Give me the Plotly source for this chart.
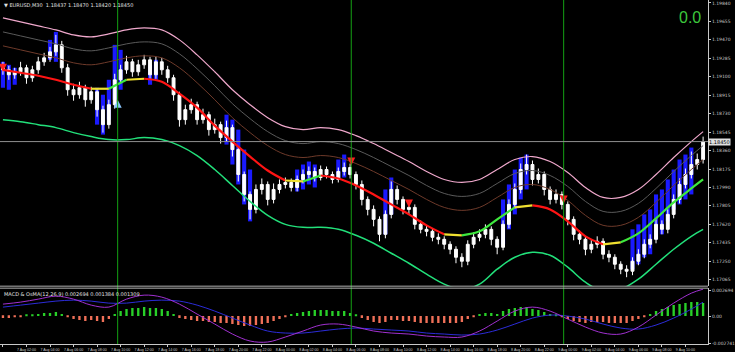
import plotly.graph_objects as go

# ---------------- data ----------------
opens = [1.1921,1.1917,1.1912,1.1915,1.1919,1.1909,1.1917,1.1925,1.1929,1.1935,
         1.1942,1.1919,1.1897,1.1892,1.1899,1.1887,1.1895,1.1877,1.1862,1.1882,
         1.1907,1.1917,1.1925,1.1915,1.1922,1.1927,1.1912,1.1925,1.1917,1.1909,
         1.1892,1.1867,1.1877,1.1882,1.1867,1.1872,1.1857,1.1862,1.1849,1.1859,
         1.1837,1.1812,1.1792,1.1777,1.1797,1.1802,1.1787,1.1797,1.1802,1.1804,
         1.1799,1.1807,1.1812,1.1815,1.1809,1.1817,1.1812,1.1807,1.1815,1.1819,
         1.1812,1.1802,1.1787,1.1777,1.1767,1.1752,1.1772,1.1797,1.1787,1.1777,
         1.1779,1.1762,1.1757,1.1755,1.1749,1.1747,1.1742,1.1737,1.1729,1.1725,
         1.1742,1.1749,1.1752,1.1757,1.1747,1.1739,1.1762,1.1782,1.1797,1.1817,
         1.1822,1.1807,1.1812,1.1797,1.1787,1.1792,1.1782,1.1767,1.1752,1.1747,
         1.1737,1.1742,1.1745,1.1732,1.1729,1.1722,1.1717,1.1715,1.1725,1.1732,
         1.1742,1.1747,1.1762,1.1757,1.1772,1.1787,1.1802,1.1812,1.1822,1.1827]
closes = [1.1917,1.1912,1.1915,1.1919,1.1909,1.1917,1.1925,1.1929,1.1935,1.1942,
          1.1919,1.1897,1.1892,1.1899,1.1887,1.1895,1.1877,1.1862,1.1882,1.1907,
          1.1917,1.1925,1.1915,1.1922,1.1927,1.1912,1.1925,1.1917,1.1909,1.1892,
          1.1867,1.1877,1.1882,1.1867,1.1872,1.1857,1.1862,1.1849,1.1859,1.1837,
          1.1812,1.1792,1.1777,1.1797,1.1802,1.1787,1.1797,1.1802,1.1804,1.1799,
          1.1807,1.1812,1.1815,1.1809,1.1817,1.1812,1.1807,1.1815,1.1819,1.1812,
          1.1802,1.1787,1.1777,1.1767,1.1752,1.1772,1.1797,1.1787,1.1777,1.1779,
          1.1762,1.1757,1.1755,1.1749,1.1747,1.1742,1.1737,1.1729,1.1725,1.1742,
          1.1749,1.1752,1.1757,1.1747,1.1739,1.1762,1.1782,1.1797,1.1817,1.1822,
          1.1807,1.1812,1.1797,1.1787,1.1792,1.1782,1.1767,1.1752,1.1747,1.1737,
          1.1742,1.1745,1.1732,1.1729,1.1722,1.1717,1.1715,1.1725,1.1732,1.1742,
          1.1747,1.1762,1.1757,1.1772,1.1787,1.1802,1.1812,1.1822,1.1827,1.1845]
highs = [1.1925,1.1921,1.1919,1.1925,1.1922,1.1921,1.1930,1.1934,1.1940,1.1952,
         1.1946,1.1923,1.1903,1.1905,1.1902,1.1900,1.1898,1.1881,1.1887,1.1913,
         1.1922,1.1931,1.1928,1.1927,1.1932,1.1930,1.1930,1.1929,1.1921,1.1912,
         1.1895,1.1882,1.1888,1.1885,1.1878,1.1875,1.1868,1.1865,1.1866,1.1862,
         1.1840,1.1815,1.1795,1.1802,1.1808,1.1805,1.1803,1.1807,1.1809,1.1808,
         1.1811,1.1817,1.1820,1.1819,1.1821,1.1820,1.1815,1.1819,1.1824,1.1823,
         1.1815,1.1806,1.1790,1.1781,1.1770,1.1776,1.1805,1.1801,1.1790,1.1784,
         1.1782,1.1766,1.1761,1.1758,1.1753,1.1750,1.1745,1.1740,1.1733,1.1746,
         1.1754,1.1757,1.1762,1.1760,1.1750,1.1766,1.1787,1.1803,1.1823,1.1832,
         1.1826,1.1818,1.1815,1.1800,1.1797,1.1795,1.1785,1.1770,1.1756,1.1750,
         1.1747,1.1750,1.1748,1.1736,1.1732,1.1725,1.1721,1.1729,1.1737,1.1747,
         1.1752,1.1767,1.1766,1.1777,1.1792,1.1808,1.1818,1.1835,1.1833,1.1850]
lows = [1.1912,1.1907,1.1908,1.1911,1.1903,1.1905,1.1913,1.1921,1.1925,1.1931,
        1.1914,1.1891,1.1886,1.1888,1.1880,1.1883,1.1870,1.1854,1.1858,1.1878,
        1.1903,1.1913,1.1910,1.1911,1.1918,1.1907,1.1908,1.1912,1.1904,1.1886,
        1.1860,1.1862,1.1873,1.1862,1.1863,1.1851,1.1853,1.1843,1.1845,1.1830,
        1.1805,1.1785,1.1767,1.1773,1.1792,1.1781,1.1783,1.1793,1.1798,1.1795,
        1.1795,1.1803,1.1808,1.1805,1.1806,1.1808,1.1803,1.1804,1.1811,1.1808,
        1.1797,1.1781,1.1771,1.1760,1.1745,1.1748,1.1768,1.1782,1.1772,1.1772,
        1.1757,1.1753,1.1750,1.1745,1.1742,1.1737,1.1732,1.1723,1.1719,1.1721,
        1.1738,1.1745,1.1748,1.1741,1.1732,1.1736,1.1758,1.1778,1.1793,1.1812,
        1.1801,1.1803,1.1791,1.1782,1.1783,1.1777,1.1761,1.1746,1.1742,1.1731,
        1.1733,1.1738,1.1727,1.1724,1.1717,1.1712,1.1709,1.1711,1.1721,1.1728,
        1.1738,1.1743,1.1752,1.1753,1.1768,1.1783,1.1798,1.1808,1.1817,1.1823]
bar_pos = list(range(120))

# blue trend bars (bar index, top, bottom)
blue_idx = [0,1,2,8,9,16,17,18,19,20,25,26,38,39,40,41,42,50,51,52,53,57,58,65,66,
            85,86,87,88,89,107,108,109,110,111,112,113,114,115,116,117]
blue_hi = [1.1925,1.1922,1.1919,1.1947,1.1955,1.1899,1.1892,1.1907,1.1942,1.1937,1.1922,1.1927,
           1.1872,1.1867,1.1857,1.1837,1.1817,1.1817,1.1822,1.1825,1.1822,1.1827,1.1832,1.1797,1.1809,
           1.1787,1.1802,1.1817,1.1829,1.1832,1.1757,1.1762,1.1772,1.1777,1.1792,1.1797,1.1807,1.1817,
           1.1827,1.1832,1.1839]
blue_lo = [1.1899,1.1897,1.1902,1.1927,1.1925,1.1862,1.1852,1.1867,1.1887,1.1897,1.1902,1.1907,
           1.1842,1.1822,1.1802,1.1782,1.1765,1.1795,1.1797,1.1802,1.1799,1.1807,1.1809,1.1752,1.1772,
           1.1742,1.1757,1.1772,1.1787,1.1797,1.1717,1.1722,1.1729,1.1732,1.1747,1.1752,1.1765,1.1777,
           1.1782,1.1787,1.1792]

# band / moving-average knots (bar index)
ma_idx = [0,3,6,9,12,15,18,21,24,27,30,33,36,39,42,45,48,51,54,57,60,63,66,69,72,75,78,81,
          84,87,90,93,96,99,102,105,108,111,114,117,119]
ma_mid = [1.1917,1.1914,1.1911,1.1907,1.1902,1.1898,1.1898,1.1907,1.1908,1.1905,1.1893,1.1879,
          1.1861,1.1845,1.1830,1.1816,1.1806,1.1805,1.1811,1.1808,1.1801,1.1792,1.1782,1.1772,
          1.1761,1.1752,1.1751,1.1755,1.1767,1.1779,1.1781,1.1777,1.1765,1.1750,1.1742,1.1744,
          1.1753,1.1768,1.1784,1.1798,1.1807]
band_top = [1.1969,1.1965,1.1961,1.1957,1.1952,1.1950,1.1953,1.1957,1.1959,1.1957,1.1947,1.1932,
            1.1915,1.1897,1.1882,1.1869,1.1860,1.1857,1.1859,1.1857,1.1851,1.1843,1.1834,1.1825,
            1.1815,1.1807,1.1804,1.1807,1.1817,1.1827,1.1830,1.1825,1.1814,1.1799,1.1789,1.1789,
            1.1797,1.1812,1.1829,1.1845,1.1855]
band_up2 = [1.1955,1.1951,1.1947,1.1943,1.1938,1.1936,1.1939,1.1943,1.1945,1.1943,1.1933,1.1918,
            1.1901,1.1883,1.1868,1.1855,1.1846,1.1843,1.1845,1.1843,1.1837,1.1829,1.1820,1.1811,
            1.1801,1.1793,1.1790,1.1793,1.1803,1.1813,1.1816,1.1811,1.1800,1.1785,1.1775,1.1775,
            1.1783,1.1798,1.1815,1.1831,1.1841]
band_up1 = [1.1941,1.1937,1.1933,1.1929,1.1924,1.1922,1.1925,1.1929,1.1931,1.1929,1.1919,1.1904,
            1.1887,1.1869,1.1854,1.1841,1.1832,1.1829,1.1831,1.1829,1.1823,1.1815,1.1806,1.1797,
            1.1787,1.1779,1.1776,1.1779,1.1789,1.1799,1.1802,1.1797,1.1786,1.1771,1.1761,1.1761,
            1.1769,1.1784,1.1801,1.1817,1.1827]
band_low = [1.1867,1.1865,1.1862,1.1859,1.1854,1.1850,1.1847,1.1847,1.1849,1.1847,1.1841,1.1831,
            1.1817,1.1801,1.1785,1.1771,1.1762,1.1759,1.1759,1.1757,1.1751,1.1743,1.1733,1.1723,
            1.1712,1.1702,1.1697,1.1702,1.1717,1.1729,1.1734,1.1731,1.1719,1.1704,1.1695,1.1697,
            1.1707,1.1722,1.1737,1.1750,1.1757]

# signal arrows
dn_idx = [0, 59.2, 69, 95.3]
dn_price = [1.1915, 1.1821, 1.1779, 1.1783]
up_idx = [19.5]
up_price = [1.1887]
separator_idx = [19.5, 59.2, 95.3]
last_price = 1.18450

# MACD panel
osma = [-0.0002,-0.0002,-0.0001,-0.0001,0.0001,0.0001,0.0002,0.0003,0.0003,0.0004,
        0.0002,-0.0001,-0.0003,-0.0004,-0.0005,-0.0004,-0.0005,-0.0006,-0.0003,0.0002,
        0.0005,0.0007,0.0008,0.0008,0.0009,0.0008,0.0008,0.0007,0.0005,0.0002,
        -0.0002,-0.0003,-0.0004,-0.0005,-0.0005,-0.0006,-0.0006,-0.0007,-0.0007,-0.0008,
        -0.0009,-0.0010,-0.0010,-0.0009,-0.0008,-0.0007,-0.0005,-0.0003,-0.0001,0.0002,
        0.0003,0.0004,0.0005,0.0006,0.0006,0.0006,0.0005,0.0005,0.0005,0.0003,
        0.0001,-0.0002,-0.0004,-0.0006,-0.0007,-0.0006,-0.0004,-0.0004,-0.0005,-0.0005,
        -0.0006,-0.0007,-0.0007,-0.0007,-0.0007,-0.0007,-0.0007,-0.0007,-0.0006,-0.0003,
        -0.0001,0.0002,0.0003,0.0003,0.0002,0.0005,0.0007,0.0008,0.0009,0.0009,
        0.0007,0.0006,0.0004,0.0002,0.0001,-0.0001,-0.0003,-0.0005,-0.0006,-0.0007,
        -0.0006,-0.0006,-0.0006,-0.0007,-0.0007,-0.0007,-0.0007,-0.0005,-0.0003,-0.0001,
        0.0002,0.0005,0.0007,0.0009,0.0011,0.0012,0.0013,0.0014,0.0014,0.0013]
macd_main = [0.0012,0.0014,0.0017,0.0020,0.0017,0.0011,0.0009,0.0017,0.0021,0.0019,0.0012,0.0002,
             -0.0008,-0.0018,-0.0025,-0.0026,-0.0021,-0.0015,-0.0009,-0.0008,-0.0011,-0.0015,-0.0017,
             -0.0018,-0.0020,-0.0021,-0.0021,-0.0015,-0.0005,0.0005,0.0009,0.0005,-0.0003,-0.0011,
             -0.0017,-0.0018,-0.0011,0.0001,0.0013,0.0023,0.0027]
macd_signal = [0.0009,0.0011,0.0013,0.0015,0.0016,0.0015,0.0013,0.0013,0.0015,0.0016,0.0015,0.0011,
               0.0005,-0.0002,-0.0009,-0.0015,-0.0017,-0.0017,-0.0015,-0.0013,-0.0012,-0.0013,-0.0014,
               -0.0015,-0.0017,-0.0018,-0.0019,-0.0018,-0.0014,-0.0008,-0.0002,0.0001,0.0000,-0.0003,
               -0.0008,-0.0012,-0.0013,-0.0009,-0.0002,0.0007,0.0014]

price_ticks = [1.19840,1.19655,1.19470,1.19285,1.19100,1.18915,1.18730,1.18545,1.18360,
               1.18175,1.17990,1.17805,1.17620,1.17435,1.17250,1.17065]
macd_ticks = [0.0026, 0.0, -0.0027]
macd_tick_text = ["0.002694", "0.00", "-0.002741"]
time_ticks = list(range(0, 120, 4))
time_labels = ["7 Aug 2017","7 Aug 02:00","7 Aug 04:00","7 Aug 06:00","7 Aug 08:00","7 Aug 10:00",
               "7 Aug 12:00","7 Aug 14:00","7 Aug 16:00","7 Aug 18:00","7 Aug 20:00","7 Aug 22:00",
               "8 Aug 00:00","8 Aug 02:00","8 Aug 04:00","8 Aug 06:00","8 Aug 08:00","8 Aug 10:00",
               "8 Aug 12:00","8 Aug 14:00","8 Aug 16:00","8 Aug 18:00","8 Aug 20:00","8 Aug 22:00",
               "9 Aug 00:00","9 Aug 02:00","9 Aug 04:00","9 Aug 06:00","9 Aug 08:00","9 Aug 10:00"]

# ---------------- figure ----------------
W, H = 735, 352
ML, MR, MT, MB = 0, 13, 0, 7
PH = H - MT - MB
main_bottom = 1 - 287 / PH
macd_top = 1 - 289 / PH

RED, YELLOW, GREEN = "#ff1414", "#f0e030", "#3ee83e"
AX = "#c8c8c8"

fig = go.Figure()

# blue bars behind candles
fig.add_trace(go.Bar(x=[bar_pos[i] for i in blue_idx],
                     y=[h - l for h, l in zip(blue_hi, blue_lo)], base=blue_lo,
                     width=0.7, marker=dict(color="#1a1aff", line=dict(width=0)),
                     xaxis="x", yaxis="y", hoverinfo="skip"))

# bands
def band(vals, color, w=1):
    fig.add_trace(go.Scatter(x=ma_idx, y=vals, mode="lines",
                             line=dict(color=color, width=w, shape="spline"),
                             xaxis="x", yaxis="y", hoverinfo="skip"))

band(band_top, "#f0a8cc", 1.2)
band(band_up2, "#5a5a5a", 1)
band(band_up1, "#6e3a2a", 1)
band(band_low, "#22e07a", 1.5)

# candles
fig.add_trace(go.Candlestick(x=bar_pos, open=opens, high=highs, low=lows, close=closes,
                             increasing=dict(line=dict(color="#ffffff", width=1), fillcolor="#ffffff"),
                             decreasing=dict(line=dict(color="#ffffff", width=1), fillcolor="#ffffff"),
                             whiskerwidth=0, xaxis="x", yaxis="y", hoverinfo="skip"))

# colored MA
def seg_color(d):
    if d > 0.00025:
        return GREEN
    if d < -0.00025:
        return RED
    return YELLOW

cols = [seg_color(ma_mid[k + 1] - ma_mid[k]) for k in range(len(ma_mid) - 1)]
start = 0
for k in range(1, len(cols) + 1):
    if k == len(cols) or cols[k] != cols[start]:
        fig.add_trace(go.Scatter(x=ma_idx[start:k + 1], y=ma_mid[start:k + 1], mode="lines",
                                 line=dict(color=cols[start], width=2.2, shape="spline"),
                                 xaxis="x", yaxis="y", hoverinfo="skip"))
        start = k

# arrows
fig.add_trace(go.Scatter(x=dn_idx, y=dn_price, mode="markers",
                         marker=dict(symbol="arrow-down", size=8, color="#ff2020"),
                         xaxis="x", yaxis="y", hoverinfo="skip"))
fig.add_trace(go.Scatter(x=up_idx, y=up_price, mode="markers",
                         marker=dict(symbol="arrow-up", size=8, color="#8cc8ff"),
                         xaxis="x", yaxis="y", hoverinfo="skip"))

# MACD
fig.add_trace(go.Bar(x=bar_pos, y=osma, width=0.4,
                     marker=dict(color=["#28d028" if v >= 0 else "#f07058" for v in osma],
                                 line=dict(width=0)),
                     xaxis="x", yaxis="y2", hoverinfo="skip"))
fig.add_trace(go.Scatter(x=ma_idx, y=macd_signal, mode="lines",
                         line=dict(color="#2c2cd8", width=1, shape="spline"),
                         xaxis="x", yaxis="y2", hoverinfo="skip"))
fig.add_trace(go.Scatter(x=ma_idx, y=macd_main, mode="lines",
                         line=dict(color="#a030d0", width=1, shape="spline"),
                         xaxis="x", yaxis="y2", hoverinfo="skip"))

shapes = []
for s in separator_idx:
    shapes.append(dict(type="line", xref="x", yref="paper", x0=s, x1=s, y0=0, y1=1,
                       line=dict(color="#14a014", width=1)))
shapes.append(dict(type="line", xref="paper", yref="y", x0=0, x1=1, y0=last_price, y1=last_price,
                   line=dict(color="#909090", width=1)))
for yy in (main_bottom, macd_top):
    shapes.append(dict(type="line", xref="paper", yref="paper", x0=0, x1=1, y0=yy, y1=yy,
                       line=dict(color="#b0b0b0", width=1)))

annotations = [
    dict(xref="paper", yref="paper", x=0.003, y=1.0, xanchor="left", yanchor="top",
         text="▼ EURUSD,M30  1.18437 1.18470 1.18420 1.18450", showarrow=False,
         font=dict(size=5, color="#e0e0e0", family="DejaVu Sans")),
    dict(xref="paper", yref="paper", x=0.003, y=macd_top - 0.003, xanchor="left", yanchor="top",
         text="MACD & OsMA(12,26,9) 0.002694 0.001384 0.001309", showarrow=False,
         font=dict(size=5, color="#e0e0e0", family="DejaVu Sans")),
    dict(xref="paper", yref="paper", x=716 / 722, y=1 - 8 / PH, xanchor="right", yanchor="top",
         text="0.0", showarrow=False, borderpad=0,
         font=dict(size=16, color="#3cc83c", family="Liberation Sans")),
    dict(xref="paper", yref="y", x=1.0, y=last_price, xanchor="left", yanchor="middle",
         text="1.18450", showarrow=False, bgcolor="#e0e0e0", borderpad=0,
         font=dict(size=5, color="#000000", family="DejaVu Sans")),
]

fig.update_layout(
    width=W, height=H, margin=dict(l=ML, r=MR, t=MT, b=MB),
    paper_bgcolor="#000000", plot_bgcolor="#000000",
    showlegend=False, barmode="overlay",
    font=dict(family="DejaVu Sans", color=AX, size=5),
    shapes=shapes, annotations=annotations,
    xaxis=dict(range=[-0.5, 119.833], anchor="y2", showgrid=False, zeroline=False,
               rangeslider=dict(visible=False), tickmode="array", tickvals=time_ticks,
               ticktext=time_labels, tickangle=0, ticks="outside", ticklen=2, tickcolor=AX,
               tickfont=dict(size=3.6, color=AX, family="Liberation Sans"),
               showline=True, linecolor=AX, linewidth=1),
    yaxis=dict(domain=[main_bottom, 1], range=[1.1700, 1.1987], side="right",
               showgrid=False, zeroline=False, tickmode="array", tickvals=price_ticks,
               ticktext=["%.5f" % v for v in price_ticks], ticks="outside", ticklen=2,
               tickcolor=AX, tickfont=dict(size=4.5, color=AX), showline=True,
               linecolor=AX, linewidth=1),
    yaxis2=dict(domain=[0, macd_top], range=[-0.0028, 0.0028], side="right",
                showgrid=False, zeroline=False, tickmode="array", tickvals=macd_ticks,
                ticktext=macd_tick_text, ticks="outside", ticklen=2, tickcolor=AX,
                tickfont=dict(size=4.5, color=AX), showline=True, linecolor=AX, linewidth=1),
)

fig.write_html("out.html")
